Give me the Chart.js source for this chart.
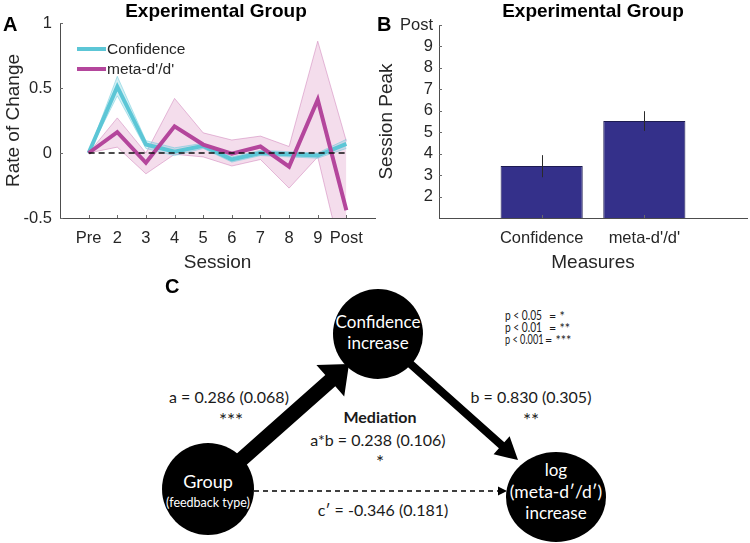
<!DOCTYPE html>
<html><head><meta charset="utf-8">
<script src="https://cdn.jsdelivr.net/npm/chart.js@4/dist/chart.umd.min.js"></script>
<style>
body{margin:0;width:750px;height:543px;position:relative;background:#fff;overflow:hidden;font-family:"Liberation Sans",Arial,sans-serif;}
.abs{position:absolute;}
.ttl{font-weight:bold;font-size:19px;line-height:19px;color:#000;text-align:center;white-space:nowrap;}
.lett{font-weight:bold;font-size:20px;line-height:20px;color:#000;}
canvas{display:block;}
</style></head>
<body>
<svg class="abs" style="left:0;top:0" width="750" height="543" viewBox="0 0 750 543" font-family="Lato, 'Open Sans', sans-serif">
  <polygon points="203,483.4 325.3,375.1 316.4,365.0 349,364 344.2,396.4 335.3,386.3 213,494.6" fill="#000"/>
  <polygon points="380.7,332 504.3,442.3 509.6,436.3 518,460 493.6,454.3 498.9,448.3 375.3,338" fill="#000"/>
  <line x1="254" y1="491" x2="499" y2="491" stroke="#000" stroke-width="1.5" stroke-dasharray="5,4"/>
  <polygon points="507,491 498,486.5 498,495.5" fill="#000"/>
  <ellipse cx="378" cy="334" rx="45" ry="45" fill="#000"/>
  <ellipse cx="208" cy="489" rx="46" ry="46" fill="#000"/>
  <ellipse cx="556" cy="497" rx="50" ry="45" fill="#000"/>
  <g fill="#fff" text-anchor="middle">
    <text x="378" y="328" font-size="17">Confidence</text>
    <text x="378" y="349" font-size="17">increase</text>
    <text x="208" y="488" font-size="18">Group</text>
    <text x="208" y="507" font-size="12.5">(feedback type)</text>
    <text x="556" y="476" font-size="17">log</text>
    <text x="556" y="498" font-size="17.5">(meta-d′/d′)</text>
    <text x="556" y="519" font-size="17">increase</text>
  </g>
  <g fill="#1a1a1a" text-anchor="middle" font-size="16">
    <text x="229" y="403">a = 0.286 (0.068)</text>
    <text x="231" y="427" font-size="19">***</text>
    <text x="531" y="403">b = 0.830 (0.305)</text>
    <text x="531" y="427" font-size="19">**</text>
    <text x="380" y="423" font-weight="bold">Mediation</text>
    <text x="378" y="446">a*b = 0.238 (0.106)</text>
    <text x="380" y="469" font-size="19">*</text>
    <text x="383" y="516">c′ = -0.346 (0.181)</text>
  </g>
  <g fill="#1a1a1a" font-size="12.5">
    <text x="505" y="320" textLength="37" lengthAdjust="spacingAndGlyphs">p &lt; 0.05</text><text x="549" y="321">= *</text>
    <text x="505" y="332" textLength="37" lengthAdjust="spacingAndGlyphs">p &lt; 0.01</text><text x="549" y="333">= **</text>
    <text x="505" y="344" textLength="38.5" lengthAdjust="spacingAndGlyphs">p &lt; 0.001</text><text x="545" y="345">= ***</text>
  </g>
</svg>
<div class="abs" style="left:0;top:0;width:380px;height:280px"><canvas id="ca" width="380" height="280"></canvas></div>
<div class="abs" style="left:372px;top:0;width:386px;height:280px"><canvas id="cb" width="386" height="280"></canvas></div>
<div class="abs ttl" style="left:116px;top:1px;width:200px">Experimental Group</div>
<div class="abs ttl" style="left:493px;top:1px;width:200px">Experimental Group</div>
<div class="abs lett" style="left:3px;top:14px">A</div>
<div class="abs lett" style="left:377px;top:14px">B</div>
<div class="abs lett" style="left:165px;top:276px">C</div>
<script>
// ---------- Data ----------
const sessions = ['Pre', '2', '3', '4', '5', '6', '7', '8', '9', 'Post'];
const confMean = [0, 0.51, 0.065, 0.01, 0.055, -0.05, 0.0, -0.01, -0.02, 0.07];
const confLow  = [0, 0.44, 0.035, -0.02, 0.035, -0.07, -0.02, -0.03, -0.04, 0.035];
const confHigh = [0, 0.59, 0.095, 0.04, 0.075, -0.03, 0.02, 0.01, 0.0, 0.105];
const metaMean = [0, 0.16, -0.075, 0.205, 0.065, -0.005, 0.05, -0.105, 0.41, -0.44];
const metaLow  = [0, 0.045, -0.16, -0.01, -0.03, -0.10, -0.05, -0.27, -0.03, -0.95];
const metaHigh = [0, 0.27, 0.0, 0.42, 0.155, 0.10, 0.13, 0.05, 0.86, 0.09];
const rateTicks = [-0.5, 0, 0.5, 1];
const seriesNames = ['Confidence', "meta-d'/d'"];

const measures = ['Confidence', "meta-d'/d'"];
const peakMean = [3.42, 5.52];
const peakErrLow = [2.9, 5.06];
const peakErrHigh = [3.93, 5.98];
const peakTickValues = [2, 3, 4, 5, 6, 7, 8, 9, 10];
const peakTickLabels = ['2', '3', '4', '5', '6', '7', '8', '9', 'Post'];

// ---------- Style ----------
const FONT = '"Liberation Sans", Arial, sans-serif';
Chart.defaults.font.family = FONT;
Chart.defaults.color = '#262626';
const CYAN = 'rgb(92,198,214)';
const MAG = 'rgb(180,70,156)';
const AXIS = '#4d4d4d';
const TXT = '#262626';

const toXY = arr => arr.map((v, i) => ({x: i + 1, y: v}));

const innerTicks = {
  id: 'innerTicks',
  afterDraw(chart, args, opts) {
    const {ctx, chartArea: a} = chart;
    const xs = chart.scales.x, ys = chart.scales.y;
    ctx.save();
    ctx.strokeStyle = '#6a6a6a';
    ctx.lineWidth = 1;
    xs.ticks.forEach((t, i) => {
      if (opts.skipEmpty && !xs.getLabelForValue(t.value)) return;
      const px = Math.round(xs.getPixelForTick(i)) + 0.5;
      ctx.beginPath(); ctx.moveTo(px, a.bottom); ctx.lineTo(px, a.bottom - 3); ctx.stroke();
    });
    ys.ticks.forEach((t, i) => {
      const py = Math.round(ys.getPixelForTick(i)) + 0.5;
      ctx.beginPath(); ctx.moveTo(a.left, py); ctx.lineTo(a.left + 3, py); ctx.stroke();
    });
    ctx.restore();
  }
};

const lineLegend = {
  id: 'lineLegend',
  afterDraw(chart, args, opts) {
    const {ctx, chartArea: a} = chart;
    ctx.save();
    opts.items.forEach((it, k) => {
      const y = a.top + 26 + k * 20;
      ctx.strokeStyle = it.color; ctx.lineWidth = 4;
      ctx.beginPath(); ctx.moveTo(a.left + 17, y); ctx.lineTo(a.left + 46, y); ctx.stroke();
      ctx.fillStyle = TXT;
      ctx.font = '15.5px ' + FONT;
      ctx.textBaseline = 'middle';
      ctx.fillText(it.text, a.left + 47, y + 1);
    });
    ctx.restore();
  }
};

const axisTitle = (text, pad) => ({display: true, text, font: {size: 19}, color: TXT, padding: pad});
const noGrid = {display: false, drawTicks: false};
const border = {display: true, color: AXIS, width: 1};

// ---------- Chart A ----------
new Chart(document.getElementById('ca'), {
  type: 'line',
  data: {
    datasets: [
      {data: toXY(sessions.map(() => 0)), borderColor: '#111', borderWidth: 1.5, borderDash: [6, 4], pointRadius: 0, fill: false},
      {data: toXY(metaMean), borderColor: MAG, borderWidth: 4, pointRadius: 0, fill: false},
      {data: toXY(confMean), borderColor: CYAN, borderWidth: 4, pointRadius: 0, fill: false},
      {data: toXY(confHigh), borderColor: 'rgba(92,198,214,0.45)', borderWidth: 1, pointRadius: 0, fill: '+1', backgroundColor: 'rgba(92,198,214,0.28)'},
      {data: toXY(confLow), borderColor: 'rgba(92,198,214,0.45)', borderWidth: 1, pointRadius: 0, fill: false},
      {data: toXY(metaHigh), borderColor: 'rgba(200,110,175,0.45)', borderWidth: 1, pointRadius: 0, fill: '+1', backgroundColor: 'rgba(205,100,170,0.22)'},
      {data: toXY(metaLow), borderColor: 'rgba(200,110,175,0.45)', borderWidth: 1, pointRadius: 0, fill: false}
    ]
  },
  options: {
    responsive: false, animation: false, events: [],
    layout: {padding: {top: 23, right: 5, bottom: 0, left: 0}},
    plugins: {
      legend: {display: false}, tooltip: {enabled: false},
      lineLegend: {items: [{text: seriesNames[0], color: CYAN}, {text: seriesNames[1], color: MAG}]}
    },
    scales: {
      x: {
        type: 'linear', min: 0, max: sessions.length + 1,
        afterBuildTicks: s => { s.ticks = sessions.map((_, i) => ({value: i + 1})); },
        afterFit: s => { s.height = 62; },
        ticks: {callback: v => sessions[v - 1], autoSkip: false, maxRotation: 0, padding: 11, font: {size: 16.5}, color: TXT},
        grid: noGrid, border,
        title: axisTitle('Session', {top: 0, bottom: 6})
      },
      y: {
        min: -0.5, max: 1,
        afterBuildTicks: s => { s.ticks = rateTicks.map(v => ({value: v})); },
        afterFit: s => { s.width = 60; },
        ticks: {callback: v => String(v), padding: 8, font: {size: 16.5}, color: TXT},
        grid: noGrid, border,
        title: axisTitle('Rate of Change', {top: 2.6, bottom: 0})
      }
    }
  },
  plugins: [innerTicks, lineLegend]
});

// ---------- Chart B ----------
const errorBars = {
  id: 'errorBars',
  afterDatasetsDraw(chart) {
    const {ctx} = chart;
    const xs = chart.scales.x, ys = chart.scales.y;
    ctx.save();
    ctx.strokeStyle = '#2a2a2a'; ctx.lineWidth = 1;
    measures.forEach((m, i) => {
      const px = Math.round(xs.getPixelForValue(i + 1)) + 0.5;
      ctx.beginPath();
      ctx.moveTo(px, ys.getPixelForValue(peakErrLow[i]));
      ctx.lineTo(px, ys.getPixelForValue(peakErrHigh[i]));
      ctx.stroke();
    });
    ctx.restore();
  }
};

new Chart(document.getElementById('cb'), {
  type: 'bar',
  data: {
    labels: ['', ...measures, ''],
    datasets: [{
      data: [null, ...peakMean, null],
      base: 1,
      backgroundColor: '#34308a', borderColor: '#1d1b52', borderWidth: 1,
      categoryPercentage: 1.0, barPercentage: 0.8
    }]
  },
  options: {
    responsive: false, animation: false, events: [],
    layout: {padding: {top: 25, right: 0, bottom: 0, left: 0}},
    plugins: {legend: {display: false}, tooltip: {enabled: false}, innerTicks: {skipEmpty: true}},
    scales: {
      x: {
        offset: false,
        afterFit: s => { s.height = 62; },
        ticks: {autoSkip: false, maxRotation: 0, padding: 11, font: {size: 16.5}, color: TXT},
        grid: noGrid, border,
        title: axisTitle('Measures', {top: 0, bottom: 6})
      },
      y: {
        min: 1, max: 10,
        afterBuildTicks: s => { s.ticks = peakTickValues.map(v => ({value: v})); },
        afterFit: s => { s.width = 67; },
        ticks: {callback: v => peakTickLabels[peakTickValues.indexOf(v)], padding: 6, font: {size: 16.5}, color: TXT},
        grid: noGrid, border,
        title: axisTitle('Session Peak', {top: 3.6, bottom: 0})
      }
    }
  },
  plugins: [innerTicks, errorBars]
});
</script>
</body></html>
